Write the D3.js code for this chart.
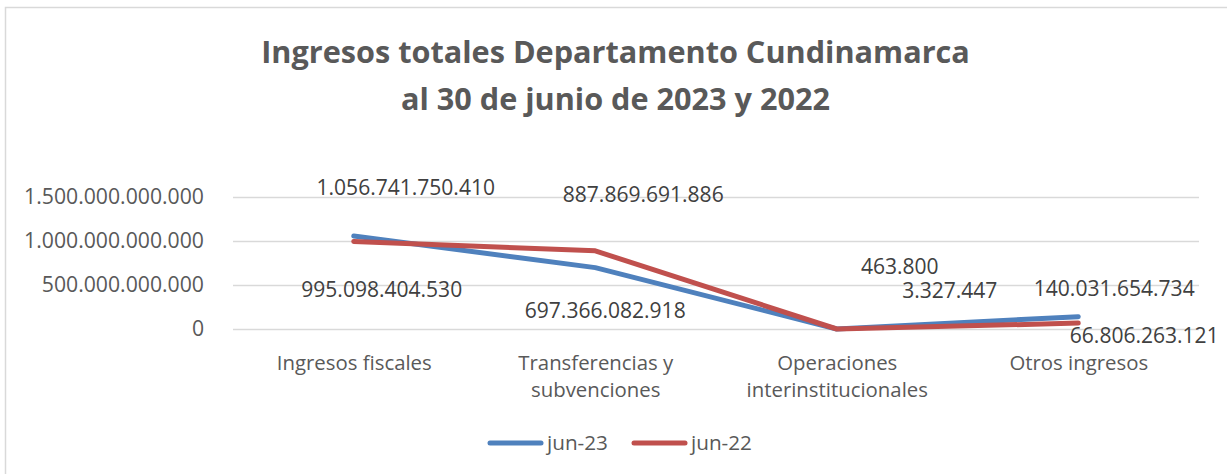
<!DOCTYPE html>
<html>
<head>
<meta charset="utf-8">
<script src="https://cdn.jsdelivr.net/npm/d3@7"></script>
<style>
  html, body { margin: 0; padding: 0; background: #fff; }
  svg { display: block; }
</style>
</head>
<body>
<svg width="1227" height="474"></svg>
<script>
const categories = [
  ['Ingresos fiscales'],
  ['Transferencias y', 'subvenciones'],
  ['Operaciones', 'interinstitucionales'],
  ['Otros ingresos'],
];
const jun23 = [1056741750410, 697366082918, 463800, 140031654734];
const jun22 = [995098404530, 887869691886, 3327447, 66806263121];
const yTicks = [0, 500000000000, 1000000000000, 1500000000000];
const titleLines = ['Ingresos totales Departamento Cundinamarca', 'al 30 de junio de 2023 y 2022'];

// label placement (dx, dy) from each point, as in the original sheet
const labelOffsets23 = [[52, -41], [10, 50], [63, -55], [36, -21]];
const labelOffsets22 = [[28, 56], [48, -49], [113, -31], [66, 20]];

const series = [
  { name: 'jun-23', values: jun23, color: '#4F81BD', offsets: labelOffsets23 },
  { name: 'jun-22', values: jun22, color: '#C0504D', offsets: labelOffsets22 },
];

const font = "'Open Sans', sans-serif";
const svg = d3.select('svg');

const locale = d3.formatLocale({ decimal: ',', thousands: '.', grouping: [3], currency: ['$', ''] });
const fmt = locale.format(',.0f');

// measure text to get a size close to the original Calibri widths
function fitSize(text, weight, target) {
  const t = svg.append('text')
    .attr('font-family', font)
    .attr('font-weight', weight)
    .attr('font-size', 100)
    .text(text);
  const len = t.node().getComputedTextLength();
  t.remove();
  return 100 * target / len;
}

const titleSize = fitSize(titleLines[0], 'bold', 709);
const tickSize = fitSize('1.500.000.000.000', 'normal', 180);
const labelSize = fitSize('887.869.691.886', 'normal', 161);
const catSize = fitSize('Ingresos fiscales', 'normal', 155);
const legendSize = fitSize('jun-23', 'normal', 61);

svg.append('rect')
  .attr('x', 5.5)
  .attr('y', 7.5)
  .attr('width', 1240)
  .attr('height', 490)
  .attr('fill', '#fff')
  .attr('stroke', '#d9d9d9')
  .attr('stroke-width', 1.5);

svg.append('g')
  .selectAll('text')
  .data(titleLines)
  .join('text')
  .attr('x', 615.5)
  .attr('y', (d, i) => 63 + i * 47)
  .attr('text-anchor', 'middle')
  .attr('font-family', font)
  .attr('font-weight', 'bold')
  .attr('font-size', titleSize)
  .attr('fill', '#595959')
  .text(d => d);

const x = d3.scalePoint()
  .domain(d3.range(categories.length))
  .range([233, 1199])
  .padding(0.5);

const y = d3.scaleLinear()
  .domain([0, 1500000000000])
  .range([329, 197]);

// gridlines + y labels
const yAxis = svg.append('g')
  .attr('transform', 'translate(233,0)')
  .call(d3.axisLeft(y).tickValues(yTicks).tickFormat(fmt).tickSize(-966).tickPadding(29));
yAxis.select('.domain').remove();
yAxis.selectAll('.tick line')
  .attr('stroke', '#d9d9d9')
  .attr('stroke-width', 1.5);
yAxis.selectAll('.tick text')
  .attr('font-family', font)
  .attr('font-size', tickSize)
  .attr('fill', '#595959');

// category labels
const xAxis = svg.append('g')
  .attr('transform', 'translate(0,329)')
  .call(d3.axisBottom(x).tickSize(0).tickFormat(''));
xAxis.select('.domain').remove();
xAxis.selectAll('.tick').each(function (d) {
  d3.select(this).select('text').remove();
  d3.select(this).append('text')
    .attr('text-anchor', 'middle')
    .attr('font-family', font)
    .attr('font-size', catSize)
    .attr('fill', '#595959')
    .selectAll('tspan')
    .data(categories[d])
    .join('tspan')
    .attr('x', 0)
    .attr('y', (t, i) => 41 + i * 27)
    .text(t => t);
});

const line = d3.line()
  .x((d, i) => x(i))
  .y(d => y(d));

series.forEach((s) => {
  svg.append('path')
    .datum(s.values)
    .attr('d', line)
    .attr('fill', 'none')
    .attr('stroke', s.color)
    .attr('stroke-width', 5)
    .attr('stroke-linecap', 'round')
    .attr('stroke-linejoin', 'round');
});

series.forEach((s) => {
  svg.append('g')
    .selectAll('text')
    .data(s.values)
    .join('text')
    .attr('x', (d, i) => x(i) + s.offsets[i][0])
    .attr('y', (d, i) => y(d) + s.offsets[i][1])
    .attr('text-anchor', 'middle')
    .attr('font-family', font)
    .attr('font-size', labelSize)
    .attr('fill', '#404040')
    .text(d => fmt(d));
});

// legend
const legendX = [488, 632];
const legend = svg.append('g')
  .selectAll('g')
  .data(series)
  .join('g')
  .attr('transform', (d, i) => `translate(${legendX[i]},443)`);
legend.append('line')
  .attr('x1', 2)
  .attr('x2', 53)
  .attr('stroke', d => d.color)
  .attr('stroke-width', 5)
  .attr('stroke-linecap', 'round');
legend.append('text')
  .attr('x', 59)
  .attr('y', 7)
  .attr('font-family', font)
  .attr('font-size', legendSize)
  .attr('fill', '#595959')
  .text(d => d.name);
</script>
</body>
</html>
